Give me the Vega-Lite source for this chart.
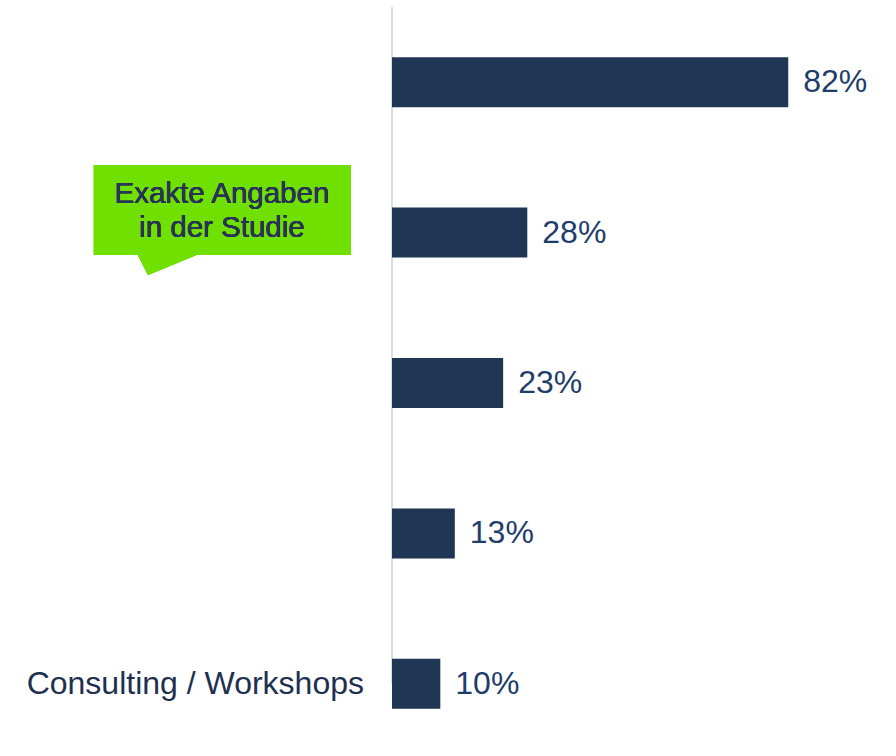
{
  "$schema": "https://vega.github.io/schema/vega-lite/v6.json",
  "autosize": "none",
  "width": 504,
  "height": 749,
  "padding": {"left": 392, "top": 7, "right": 0, "bottom": 0},
  "background": "#ffffff",
  "config": {"view": {"stroke": null}, "font": "Liberation Sans"},
  "data": {
    "values": [
      {"rang": 1, "wert": 0.82, "kategorie": ""},
      {"rang": 2, "wert": 0.28, "kategorie": ""},
      {"rang": 3, "wert": 0.23, "kategorie": ""},
      {"rang": 4, "wert": 0.13, "kategorie": ""},
      {"rang": 5, "wert": 0.10, "kategorie": "Consulting / Workshops"}
    ]
  },
  "encoding": {
    "y": {"field": "rang", "type": "quantitative", "scale": {"domain": [0.5, 5.48], "reverse": true, "nice": false, "zero": false, "padding": 0}, "axis": null}
  },
  "layer": [
    {
      "mark": {"type": "rect", "color": "#70e000"},
      "encoding": {
        "x": {"datum": -0.617, "type": "quantitative", "scale": {"domain": [0, 1.043], "nice": false, "padding": 0}, "axis": null},
        "x2": {"datum": -0.085},
        "y": {"datum": 1.5505, "type": "quantitative"},
        "y2": {"datum": 2.149}
      }
    },
    {
      "mark": {"type": "point", "filled": true, "color": "#70e000", "opacity": 1, "size": 4096, "shape": "M -1,-0.06 L 1,-0.06 L -0.656,0.625 Z"},
      "encoding": {
        "x": {"datum": -0.4615, "type": "quantitative"},
        "y": {"datum": 2.149, "type": "quantitative"}
      }
    },
    {
      "mark": {"type": "text", "text": ["Exakte Angaben", "in der Studie"], "fontSize": 29.5, "lineHeight": 34, "align": "center", "baseline": "alphabetic", "color": "#283456"},
      "encoding": {
        "x": {"datum": -0.352, "type": "quantitative"},
        "y": {"datum": 1.803, "type": "quantitative"}
      }
    },
    {
      "mark": {"type": "rule", "color": "#d5dfec", "strokeWidth": 2},
      "encoding": {"x": {"datum": 0, "type": "quantitative"}}
    },
    {
      "mark": {"type": "bar", "orient": "horizontal", "size": 50, "color": "#203655"},
      "encoding": {
        "x": {"field": "wert", "type": "quantitative"}
      }
    },
    {
      "mark": {"type": "text", "align": "left", "baseline": "middle", "dx": 15, "fontSize": 32, "color": "#1f3d6b"},
      "encoding": {
        "x": {"field": "wert", "type": "quantitative"},
        "text": {"field": "wert", "type": "quantitative", "format": ".0%"}
      }
    },
    {
      "mark": {"type": "text", "align": "right", "baseline": "middle", "dx": -28, "fontSize": 32, "color": "#1e3050"},
      "encoding": {
        "x": {"datum": 0, "type": "quantitative"},
        "text": {"field": "kategorie", "type": "nominal"}
      }
    }
  ]
}
